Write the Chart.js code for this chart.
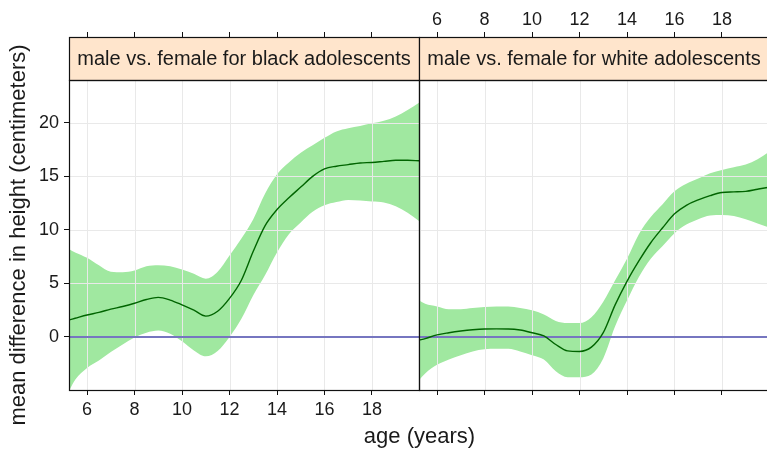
<!DOCTYPE html>
<html>
<head>
<meta charset="utf-8">
<script src="https://cdn.jsdelivr.net/npm/chart.js@4.4.1/dist/chart.umd.min.js"></script>
<style>
  html, body { margin: 0; padding: 0; background: #fff; overflow: hidden; width: 767px; height: 449px; }
  #wrap { position: relative; width: 767px; height: 449px; overflow: hidden; }
  #wrap canvas { position: absolute; top: 0; }
  #leftPanel { left: 0; }
  #rightPanel { left: 400px; }
</style>
</head>
<body>
<div id="wrap">
  <canvas id="leftPanel" width="767" height="449"></canvas>
  <canvas id="rightPanel" width="372" height="449"></canvas>
</div>
<script>
// Age grid (years) at which the smoothed differences are evaluated
const ages = [5.25, 5.5, 6, 6.5, 7, 7.5, 8, 8.5, 9, 9.5, 10, 10.5, 11, 11.5, 12, 12.5,
              13, 13.5, 14, 14.5, 15, 15.5, 16, 16.5, 17, 17.5, 18, 18.5, 19, 19.5, 20];

// Black adolescents: mean male - female height difference (cm) and band limits
const blackMean  = [1.6, 1.75, 2.05, 2.3, 2.6, 2.85, 3.15, 3.5, 3.7, 3.45, 3.0, 2.5, 1.95, 2.4, 3.6, 5.3,
                    8.0, 10.4, 11.9, 13.0, 14.0, 15.0, 15.7, 15.95, 16.1, 16.25, 16.3, 16.4, 16.5, 16.5, 16.45];
const blackUpper = [8.2, 7.9, 7.4, 6.7, 6.1, 6.05, 6.2, 6.6, 6.7, 6.6, 6.3, 5.9, 5.45, 6.1, 7.6, 9.2,
                    11.0, 13.4, 15.2, 16.3, 17.2, 17.9, 18.6, 19.2, 19.5, 19.7, 19.95, 20.2, 20.6, 21.2, 21.9];
const blackLower = [-5.0, -4.0, -2.9, -2.2, -1.4, -0.7, -0.05, 0.4, 0.6, 0.3, -0.4, -1.25, -1.8, -1.3, 0.0, 1.7,
                    3.9, 5.8, 7.9, 9.6, 10.7, 11.7, 12.3, 12.6, 12.8, 12.75, 12.65, 12.55, 12.2, 11.6, 10.8];

// White adolescents
const whiteMean  = [-0.3, -0.15, 0.2, 0.4, 0.56, 0.68, 0.75, 0.76, 0.75, 0.65, 0.4, 0.1, -0.7, -1.3, -1.35, -0.95,
                    0.4, 3.0, 5.2, 7.1, 8.8, 10.2, 11.5, 12.3, 12.8, 13.2, 13.5, 13.55, 13.6, 13.8, 14.0];
const whiteUpper = [3.4, 3.1, 2.85, 2.6, 2.6, 2.7, 2.8, 2.85, 2.85, 2.7, 2.5, 2.1, 1.5, 1.3, 1.3, 1.85,
                    3.3, 5.3, 7.3, 9.6, 11.2, 12.4, 13.6, 14.3, 14.8, 15.3, 15.6, 15.85, 16.1, 16.6, 17.3];
const whiteLower = [-4.0, -3.4, -2.6, -2.1, -1.7, -1.35, -1.15, -1.1, -1.1, -1.35, -1.7, -2.1, -3.2, -3.75, -3.75, -3.5,
                    -2.0, 1.0, 3.4, 5.6, 7.3, 8.5, 9.7, 10.5, 11.0, 11.35, 11.4, 11.3, 11.0, 10.6, 10.2];

// Axis ticks and ranges
const ageTicks = [6, 8, 10, 12, 14, 16, 18];
const heightTicks = [0, 5, 10, 15, 20];
const ageRange = [5.24, 19.98];
const heightRange = [-4.95, 24.0];
const referenceLevel = 0;

// Texts
const panelTitles = ['male vs. female for black adolescents', 'male vs. female for white adolescents'];
const xTitle = 'age (years)';
const yTitle = 'mean difference in height (centimeters)';

const FONT = '"Liberation Sans", Arial, Helvetica, sans-serif';
const TEXT = '#1a1a1a';
Chart.defaults.font.family = FONT;
Chart.defaults.color = TEXT;

const BAND = '#a0e8a0';
const MEAN = '#006400';
const REF = '#7676c0';
const GRID = '#e9e9e9';
const STRIP = '#ffe5cc';
const STRIP_TOP = 37;
const BAND_INDEX = 2;

const toPoints = ys => ages.map((x, i) => ({ x, y: ys[i] }));
const setTicks = values => scale => { scale.ticks = values.map(v => ({ value: v })); };

function buildDatasets(mean, upper, lower) {
  return [
    { data: toPoints(mean), borderColor: MEAN, borderWidth: 1.4, pointRadius: 0,
      cubicInterpolationMode: 'monotone', fill: false },
    { data: [{ x: ageRange[0], y: referenceLevel }, { x: ageRange[1], y: referenceLevel }],
      borderColor: REF, borderWidth: 2, pointRadius: 0, fill: false },
    { data: toPoints(upper), borderWidth: 0, borderColor: 'rgba(0,0,0,0)', backgroundColor: BAND,
      pointRadius: 0, cubicInterpolationMode: 'monotone', fill: 3 },
    { data: toPoints(lower), borderWidth: 0, borderColor: 'rgba(0,0,0,0)', pointRadius: 0,
      cubicInterpolationMode: 'monotone', fill: false }
  ];
}

// Reference grid drawn over the band but under the lines
const bandGrid = {
  id: 'bandGrid',
  afterDatasetDraw(chart, args) {
    if (args.index !== BAND_INDEX) return;
    const { ctx, chartArea: a, scales: { x, y } } = chart;
    ctx.save();
    ctx.beginPath();
    ctx.rect(a.left, a.top, a.right - a.left, a.bottom - a.top);
    ctx.clip();
    ctx.strokeStyle = GRID;
    ctx.lineWidth = 1;
    ctx.beginPath();
    ageTicks.forEach(v => {
      const px = Math.round(x.getPixelForValue(v)) + 0.5;
      ctx.moveTo(px, a.top); ctx.lineTo(px, a.bottom);
    });
    heightTicks.forEach(v => {
      const py = Math.round(y.getPixelForValue(v)) + 0.5;
      ctx.moveTo(a.left, py); ctx.lineTo(a.right, py);
    });
    ctx.stroke();
    ctx.restore();
  }
};

// Strip label above each panel, panel frame, shared x title
const panelFrame = {
  id: 'panelFrame',
  afterDraw(chart, args, opts) {
    const { ctx, chartArea: a } = chart;
    ctx.save();
    ctx.fillStyle = STRIP;
    ctx.fillRect(a.left, STRIP_TOP, a.right - a.left, a.top - STRIP_TOP);
    ctx.strokeStyle = '#111';
    ctx.lineWidth = 1.2;
    ctx.strokeRect(a.left + 0.5, STRIP_TOP + 0.5, a.right - a.left, a.top - STRIP_TOP);
    ctx.strokeRect(a.left + 0.5, a.top + 0.5, a.right - a.left, a.bottom - a.top);
    ctx.fillStyle = TEXT;
    ctx.font = '20px ' + FONT;
    ctx.textAlign = 'center';
    ctx.textBaseline = 'middle';
    ctx.fillText(opts.title, (a.left + a.right) / 2, (STRIP_TOP + a.top) / 2 + 1);
    if (opts.xTitle) {
      ctx.font = '22px ' + FONT;
      ctx.textBaseline = 'alphabetic';
      ctx.fillText(opts.xTitle, opts.xTitleX, 443);
    }
    ctx.restore();
  }
};

function axisX(position, showLabels, tickLen, height) {
  return {
    type: 'linear', position, min: ageRange[0], max: ageRange[1],
    afterBuildTicks: setTicks(ageTicks),
    ticks: { display: showLabels, font: { size: 18 }, color: TEXT, padding: position === 'top' ? 1 : 4,
             maxRotation: 0, autoSkip: false },
    grid: { drawOnChartArea: false, tickLength: tickLen, tickColor: '#111', tickWidth: 1 },
    border: { display: false },
    afterFit: s => { s.height = height; }
  };
}

function baseOptions(padding, scales, frameOpts) {
  return {
    responsive: false,
    animation: false,
    events: [],
    layout: { padding },
    scales,
    plugins: {
      legend: { display: false },
      tooltip: { enabled: false },
      panelFrame: frameOpts
    }
  };
}

new Chart(document.getElementById('leftPanel'), {
  type: 'line',
  data: { datasets: buildDatasets(blackMean, blackUpper, blackLower) },
  options: baseOptions(
    { left: 0, right: 348, top: 0, bottom: 0 },
    {
      x: axisX('bottom', true, 5, 59),
      xTop: axisX('top', false, 48, 80),
      y: {
        type: 'linear', position: 'left', min: heightRange[0], max: heightRange[1],
        afterBuildTicks: setTicks(heightTicks),
        ticks: { font: { size: 18 }, color: TEXT, padding: 5 },
        grid: { drawOnChartArea: false, tickLength: 5, tickColor: '#111' },
        border: { display: false },
        title: { display: true, text: yTitle, font: { size: 22 }, color: TEXT, padding: { top: 6, bottom: 0 } },
        afterFit: s => { s.width = 69; }
      }
    },
    { title: panelTitles[0], xTitle: xTitle, xTitleX: 419.5 }
  ),
  plugins: [bandGrid, panelFrame]
});

new Chart(document.getElementById('rightPanel'), {
  type: 'line',
  data: { datasets: buildDatasets(whiteMean, whiteUpper, whiteLower) },
  options: baseOptions(
    { left: 19, right: 3, top: 0, bottom: 0 },
    {
      x: axisX('bottom', false, 5, 59),
      xTop: axisX('top', true, 48, 80),
      y: { type: 'linear', display: false, min: heightRange[0], max: heightRange[1] }
    },
    { title: panelTitles[1] }
  ),
  plugins: [bandGrid, panelFrame]
});
</script>
</body>
</html>
